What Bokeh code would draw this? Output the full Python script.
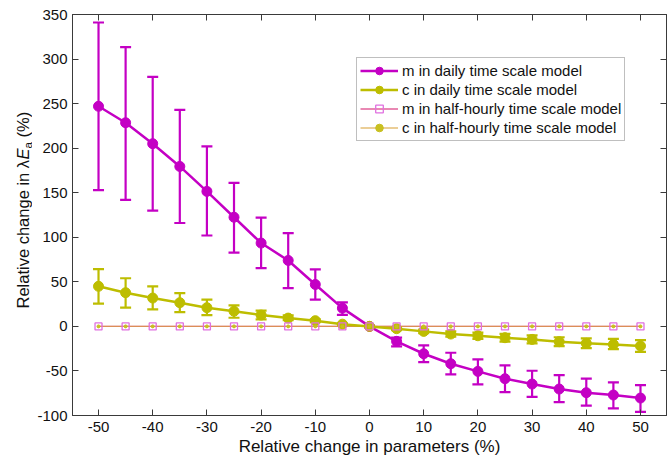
import math
from bokeh.plotting import figure
from bokeh.layouts import row
from bokeh.models import (ColumnDataSource, Whisker, TeeHead, Legend, LegendItem,
                          LinearAxis, Label, FixedTicker, Range1d, CustomJSTickFormatter)
from bokeh.embed import file_html
from bokeh.resources import INLINE

# ---------------- data ----------------
x_change = [-50, -45, -40, -35, -30, -25, -20, -15, -10, -5, 0,
            5, 10, 15, 20, 25, 30, 35, 40, 45, 50]

m_daily = [247, 228.5, 205, 179.5, 151.5, 122.5, 93.5, 74, 47, 20.5, 0,
           -16.8, -30.7, -41.9, -50.5, -58.7, -64.7, -70.3, -74.4, -77, -80.4]
m_daily_hi = [341, 313.5, 280, 243, 202, 161, 122, 104.7, 64, 27, 0,
              -12.7, -21.3, -29.6, -37, -43.8, -49.8, -54.6, -58.7, -62.8, -66]
m_daily_lo = [153, 142, 130, 116, 102, 82.7, 65.4, 43, 30, 13, 0,
              -22.4, -40, -53.9, -65, -73.7, -79, -85, -89, -92, -96]

c_daily = [45, 37.8, 31.8, 26.6, 21, 17, 12.7, 9.3, 6.4, 2.5, 0,
           -2.6, -5.6, -8.6, -10.5, -12.7, -14.6, -17.2, -19, -20.2, -22]
c_daily_hi = [64.3, 54, 45, 37.4, 30, 23.6, 17.6, 12.3, 8, 3.5, 0,
              -1, -3.5, -5.6, -7, -8.3, -10.1, -12.2, -13.5, -14, -15.5]
c_daily_lo = [25.5, 21, 19, 16, 12.7, 9.7, 7.8, 7, 4.8, 1.5, 0,
              -4.2, -7.7, -11.6, -14, -17, -19.1, -22.2, -24.5, -25.5, -28.5]

m_halfhourly = [0, 0, 0, 0, 0, 0, 0, 0, 0, 0, 0,
                0, 0, 0, 0, 0, 0, 0, 0, 0, 0]
c_halfhourly = [0, 0, 0, 0, 0, 0, 0, 0, 0, 0, 0,
                0, 0, 0, 0, 0, 0, 0, 0, 0, 0]

x_ticks = [-50, -40, -30, -20, -10, 0, 10, 20, 30, 40, 50]
y_ticks = [-100, -50, 0, 50, 100, 150, 200, 250, 300, 350]

legend_labels = ["m in daily time scale model",
                 "c in daily time scale model",
                 "m in half-hourly time scale model",
                 "c in half-hourly time scale model"]

# ---------------- style ----------------
MAG = "#c400c4"
OLV = "#bdbd00"
PINK = "#e070e0"
AXC = "#3a3a3a"
FONT = "Liberation Sans"

src = ColumnDataSource(dict(x=x_change, m=m_daily, mhi=m_daily_hi, mlo=m_daily_lo,
                            c=c_daily, chi=c_daily_hi, clo=c_daily_lo,
                            mh=m_halfhourly, ch=c_halfhourly))

LEFT_W = 32

p = figure(width=667 - LEFT_W, height=460, output_backend="svg", toolbar_location=None,
           x_range=Range1d(-54.8, 54.8), y_range=Range1d(-100, 350),
           min_border_left=72 - LEFT_W, min_border_right=1, min_border_top=14,
           min_border_bottom=45)
p.background_fill_color = "white"
p.border_fill_color = "white"
p.grid.visible = False
p.outline_line_color = AXC
p.outline_line_width = 1

plain_fmt = CustomJSTickFormatter(code="return String(tick);")
blank_fmt = CustomJSTickFormatter(code="return '';")

# axes
for ax in (p.xaxis[0], p.yaxis[0]):
    ax.axis_line_color = AXC
    ax.major_tick_line_color = AXC
    ax.major_tick_in = 6
    ax.major_tick_out = 0
    ax.minor_tick_line_color = None
    ax.major_label_text_font = FONT
    ax.major_label_text_font_size = "15px"
    ax.major_label_text_color = "#111111"
    ax.formatter = plain_fmt
p.xaxis[0].ticker = FixedTicker(ticks=x_ticks)
p.yaxis[0].ticker = FixedTicker(ticks=y_ticks)
p.xaxis[0].major_label_standoff = 6
p.yaxis[0].major_label_standoff = 5
p.xaxis[0].axis_label = "Relative change in parameters (%)"
p.xaxis[0].axis_label_text_font = FONT
p.xaxis[0].axis_label_text_font_size = "17px"
p.xaxis[0].axis_label_text_font_style = "normal"
p.xaxis[0].axis_label_text_color = "#111111"
p.xaxis[0].axis_label_standoff = 2

top_ax = LinearAxis(ticker=FixedTicker(ticks=x_ticks), formatter=blank_fmt,
                    major_tick_in=6, major_tick_out=0, minor_tick_line_color=None,
                    major_label_standoff=0, axis_line_color=AXC, major_tick_line_color=AXC)
right_ax = LinearAxis(ticker=FixedTicker(ticks=y_ticks), formatter=blank_fmt,
                      major_tick_in=6, major_tick_out=0, minor_tick_line_color=None,
                      major_label_standoff=0, axis_line_color=AXC, major_tick_line_color=AXC)
p.add_layout(top_ax, "above")
p.add_layout(right_ax, "right")

# half-hourly lines (drawn first)
r_mh_line = p.line("x", "mh", source=src, line_color="#e2609a", line_width=1.3)
r_ch_line = p.line("x", "ch", source=src, line_color="#d9a23a", line_width=1.3, line_alpha=0.7)

# daily series
r_m_line = p.line("x", "m", source=src, line_color=MAG, line_width=2.5)
p.add_layout(Whisker(source=src, base="x", upper="mhi", lower="mlo",
                     line_color=MAG, line_width=2.2,
                     upper_head=TeeHead(size=11, line_color=MAG, line_width=2.2),
                     lower_head=TeeHead(size=11, line_color=MAG, line_width=2.2)))
r_m_pts = p.scatter("x", "m", source=src, marker="circle", size=10,
                    fill_color=MAG, line_color=MAG)

r_c_line = p.line("x", "c", source=src, line_color=OLV, line_width=2.5)
p.add_layout(Whisker(source=src, base="x", upper="chi", lower="clo",
                     line_color=OLV, line_width=2.2,
                     upper_head=TeeHead(size=11, line_color=OLV, line_width=2.2),
                     lower_head=TeeHead(size=11, line_color=OLV, line_width=2.2)))
r_c_pts = p.scatter("x", "c", source=src, marker="circle", size=10,
                    fill_color=OLV, line_color=OLV)

# half-hourly markers
r_mh_pts = p.scatter("x", "mh", source=src, marker="square", size=7,
                     fill_color=None, line_color=PINK, line_width=1.3)
r_ch_pts = p.scatter("x", "ch", source=src, marker="circle", size=3,
                     fill_color="#c8c020", line_color="#c8c020")

legend = Legend(items=[
    LegendItem(label=legend_labels[0], renderers=[r_m_line, r_m_pts]),
    LegendItem(label=legend_labels[1], renderers=[r_c_line, r_c_pts]),
    LegendItem(label=legend_labels[2], renderers=[r_mh_line, r_mh_pts]),
    LegendItem(label=legend_labels[3], renderers=[r_ch_line, r_ch_pts]),
], location=(284, 274))
legend.glyph_width = 38
legend.glyph_height = 19
legend.label_height = 19
legend.spacing = 0
legend.padding = 3
legend.margin = 0
legend.label_standoff = 4
legend.label_text_font = FONT
legend.label_text_font_size = "15px"
legend.label_text_color = "#111111"
legend.border_line_color = "#808080"
legend.border_line_width = 1
legend.background_fill_alpha = 1
p.add_layout(legend)

# ---- narrow strip on the left that carries the y-axis title ----
# (its frame is aligned with the main frame: bottom at canvas y=415)
q = figure(width=LEFT_W, height=460, output_backend="svg", toolbar_location=None,
           x_axis_location=None, y_axis_location=None,
           x_range=Range1d(0, 1), y_range=Range1d(0, 1), min_border=0)
q.grid.visible = False
q.outline_line_color = None
q.background_fill_color = "white"
q.border_fill_color = "white"

ang = math.pi / 2
ylab_x = 22
base = dict(x_units="screen", y_units="screen", angle=ang, text_font=FONT,
            text_color="#111111", text_baseline="middle", text_align="left")
q.add_layout(Label(x=ylab_x, y=107, text="Relative change in  \u03bb",
                   text_font_size="16.5px", **base))
q.add_layout(Label(x=ylab_x, y=256, text="E", text_font_size="16.5px",
                   text_font_style="italic", **base))
q.add_layout(Label(x=ylab_x + 5, y=267, text="a", text_font_size="11.5px", **base))
q.add_layout(Label(x=ylab_x, y=278, text="(%)", text_font_size="16.5px", **base))

layout = row(q, p)
open("out.html", "w").write(file_html(layout, INLINE))
